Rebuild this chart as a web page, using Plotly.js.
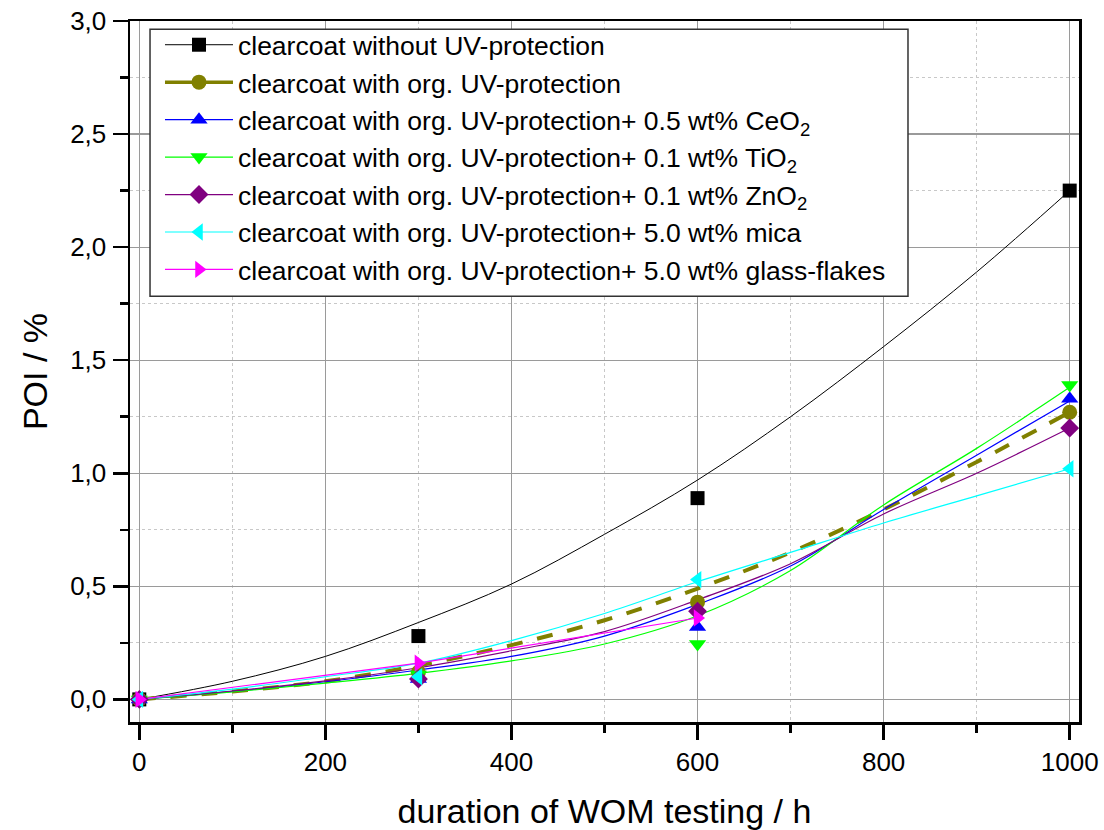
<!DOCTYPE html>
<html>
<head>
<meta charset="utf-8">
<script src="https://cdn.plot.ly/plotly-3.0.1.min.js"></script>
<style>
  html, body { margin: 0; padding: 0; background: #fff; }
  #chart { width: 1104px; height: 830px; }
</style>
</head>
<body>
<div id="chart"></div>
<script>
// Measured points (POI in % after WOM exposure time in h)
const hours = [0, 300, 600, 1000];
const hoursGlass = [0, 300, 600];

const poiNoUV   = [0, 0.28, 0.89, 2.25];
const poiOrgUV  = [0, 0.12, 0.43, 1.27];
const poiCeO2   = [0, 0.09, 0.32, 1.33];
const poiTiO2   = [0, 0.11, 0.245, 1.39];
const poiZnO2   = [0, 0.09, 0.39, 1.20];
const poiMica   = [0, 0.10, 0.53, 1.02];
const poiGlass  = [0, 0.16, 0.36];

// Fitted trend curves, sampled every 100 h
const fitHours  = [0, 100, 200, 300, 400, 500, 600, 700, 800, 900, 1000];
const fitNoUV   = [0, 0.08, 0.19, 0.34, 0.51, 0.73, 0.97, 1.25, 1.56, 1.89, 2.25];
const fitOrgUV  = [0, 0.035, 0.08, 0.15, 0.24, 0.35, 0.49, 0.65, 0.84, 1.05, 1.27];
const fitCeO2   = [0, 0.035, 0.078, 0.13, 0.19, 0.28, 0.42, 0.59, 0.84, 1.08, 1.32];
const fitTiO2   = [0, 0.033, 0.072, 0.115, 0.17, 0.245, 0.37, 0.57, 0.86, 1.11, 1.38];
const fitZnO2   = [0, 0.037, 0.082, 0.14, 0.215, 0.30, 0.44, 0.60, 0.82, 1.00, 1.20];
const fitMica   = [0, 0.045, 0.10, 0.16, 0.26, 0.38, 0.52, 0.65, 0.78, 0.90, 1.02];

const seriesNames = [
  'clearcoat without UV-protection',
  'clearcoat with org. UV-protection',
  'clearcoat with org. UV-protection+ 0.5 wt% CeO<sub>2</sub>',
  'clearcoat with org. UV-protection+ 0.1 wt% TiO<sub>2</sub>',
  'clearcoat with org. UV-protection+ 0.1 wt% ZnO<sub>2</sub>',
  'clearcoat with org. UV-protection+ 5.0 wt% mica',
  'clearcoat with org. UV-protection+ 5.0 wt% glass-flakes'
];

const colors  = ['#000000', '#808000', '#0000ff', '#00ff00', '#800080', '#00ffff', '#ff00ff'];
const symbols = ['square', 'circle', 'triangle-up', 'triangle-down', 'diamond', 'triangle-left', 'triangle-right'];
const sizes   = [14, 15, 15, 15, 14.5, 15, 15];

const fits = [fitNoUV, fitOrgUV, fitCeO2, fitTiO2, fitZnO2, fitMica];
const pointsX = [hours, hours, hours, hours, hours, hours, hoursGlass];
const pointsY = [poiNoUV, poiOrgUV, poiCeO2, poiTiO2, poiZnO2, poiMica, poiGlass];

const traces = [];

// trend curves
fits.forEach((ys, i) => {
  const isOrg = i === 1;
  traces.push({
    x: fitHours, y: ys, type: 'scatter', mode: 'lines',
    line: {
      color: colors[i], shape: 'spline', smoothing: 1,
      width: isOrg ? 4 : (i === 0 ? 1 : 1.2),
      dash: isOrg ? '16px,15px' : 'solid'
    },
    showlegend: false, hoverinfo: 'skip'
  });
});

// glass-flake series connected point to point
traces.push({
  x: hoursGlass, y: poiGlass, type: 'scatter', mode: 'lines',
  line: { color: colors[6], width: 1.2 },
  showlegend: false, hoverinfo: 'skip'
});

// measured points
pointsY.forEach((ys, i) => {
  traces.push({
    x: pointsX[i], y: ys, type: 'scatter', mode: 'markers',
    marker: { symbol: symbols[i], size: sizes[i], color: colors[i], line: { width: 0 } },
    showlegend: false
  });
});

// legend entries
seriesNames.forEach((name, i) => {
  traces.push({
    x: [null], y: [null], type: 'scatter', mode: 'lines+markers', name: name,
    line: { color: colors[i], width: i === 1 ? 3.5 : (i === 0 ? 1 : 1.2) },
    marker: { symbol: symbols[i], size: sizes[i], color: colors[i], line: { width: 0 } }
  });
});

const font = 'Liberation Sans, Arial, sans-serif';

const layout = {
  width: 1104, height: 830,
  margin: { l: 130, r: 25, t: 21, b: 108 },
  paper_bgcolor: '#ffffff', plot_bgcolor: '#ffffff',
  separators: ',.',
  font: { family: font, color: '#000000', size: 26 },
  showlegend: true,
  legend: {
    x: 0.0316, y: 1.0, xanchor: 'left', yanchor: 'top',
    bgcolor: 'rgba(0,0,0,0)', borderwidth: 0,
    font: { family: font, size: 26.5, color: '#000000' },
    itemwidth: 68, tracegroupgap: 0
  },
  // legend frame
  shapes: [{
    type: 'rect', xref: 'paper', yref: 'paper', layer: 'above',
    x0: 0.0211, x1: 0.8198, y0: 0.6073, y1: 0.9882,
    fillcolor: '#ffffff', line: { color: '#333333', width: 1.5 }
  }],
  xaxis: {
    range: [-10, 1010],
    tickvals: [0, 200, 400, 600, 800, 1000],
    tickformat: 'd',
    ticks: 'outside', ticklen: 15, tickwidth: 2.5, tickcolor: '#000',
    ticklabelstandoff: 0,
    tickfont: { family: font, size: 26 },
    showline: true, linewidth: 2.5, linecolor: '#000', mirror: true,
    showgrid: true, gridcolor: '#9a9a9a', gridwidth: 1.2,
    zeroline: false,
    minor: { dtick: 100, ticks: 'outside', ticklen: 8, tickwidth: 2.5, tickcolor: '#000',
             showgrid: true, gridcolor: '#c8c8c8', gridwidth: 1, griddash: 'dot' },
    title: { text: 'duration of WOM testing / h', font: { family: font, size: 34 }, standoff: 26 }
  },
  yaxis: {
    range: [-0.1, 3.0],
    tickvals: [0, 0.5, 1, 1.5, 2, 2.5, 3],
    tickformat: '.1f',
    ticks: 'outside', ticklen: 15, tickwidth: 2.5, tickcolor: '#000',
    ticklabelstandoff: 1,
    tickfont: { family: font, size: 26 },
    showline: true, linewidth: 2.5, linecolor: '#000', mirror: true,
    showgrid: true, gridcolor: '#9a9a9a', gridwidth: 1.2,
    zeroline: false,
    minor: { dtick: 0.25, ticks: 'outside', ticklen: 8, tickwidth: 2.5, tickcolor: '#000',
             showgrid: true, gridcolor: '#c8c8c8', gridwidth: 1, griddash: 'dot' },
    title: { text: 'POI / %', font: { family: font, size: 34 }, standoff: 12 }
  }
};

Plotly.newPlot('chart', traces, layout, { displayModeBar: false, staticPlot: true });
</script>
</body>
</html>
